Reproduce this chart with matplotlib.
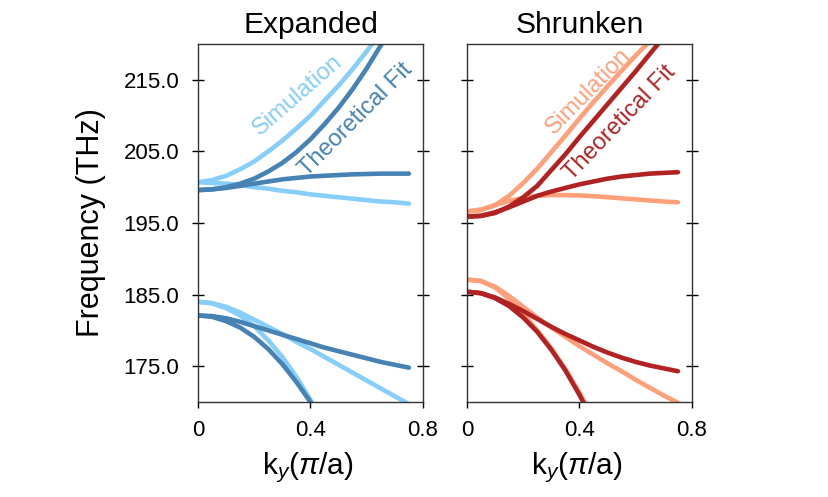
# Third-party imports
import numpy as np
import matplotlib
matplotlib.use('Agg')
import matplotlib.pyplot as plt

# Fonts
plt.rcParams['font.family'] = ['Liberation Sans', 'DejaVu Sans']
plt.rcParams['mathtext.fontset'] = 'custom'
plt.rcParams['mathtext.rm'] = 'Liberation Sans'
plt.rcParams['mathtext.it'] = 'Liberation Sans:italic'

# Wavevector samples [pi/a]
k = np.array([0., 0.05, 0.1, 0.15, 0.2, 0.25, 0.3, 0.35,
              0.4, 0.45, 0.5, 0.55, 0.6, 0.65, 0.7, 0.75])

# Expanded lattice, simulation [THz]
exp_sim_up = [200.7, 201.0, 201.6, 202.5, 203.6, 205.0, 206.5, 208.2,
              210.0, 212.1, 214.2, 216.5, 219.0, 221.6]
exp_sim_flat = [200.7, 200.6, 200.5, 200.3, 200.0, 199.8, 199.5, 199.3,
                199.0, 198.8, 198.6, 198.4, 198.2, 198.0, 197.9, 197.7]
exp_sim_steep = [184.0, 183.8, 183.1, 182.1, 180.6, 178.6, 176.3, 173.5,
                 170.3, 166.6]
exp_sim_low = [184.0, 183.8, 183.3, 182.5, 181.5, 180.5, 179.5, 178.4,
               177.4, 176.3, 175.2, 174.1, 173.0, 171.9, 170.8, 169.7]

# Expanded lattice, theoretical fit [THz]
exp_fit_up = [199.6, 199.7, 200.0, 200.5, 201.2, 202.2, 203.4, 204.9,
              206.7, 208.8, 211.1, 213.7, 216.6, 219.8, 223.3]
exp_fit_flat = [199.6, 199.7, 199.9, 200.2, 200.5, 200.8, 201.1, 201.3,
                201.5, 201.6, 201.7, 201.8, 201.85, 201.9, 201.9, 201.9]
exp_fit_steep = [182.1, 181.9, 181.3, 180.4, 179.1, 177.4, 175.3, 172.8,
                 170.0, 166.8]
exp_fit_low = [182.1, 182.0, 181.7, 181.2, 180.6, 180.0, 179.4, 178.8,
               178.2, 177.6, 177.1, 176.6, 176.1, 175.6, 175.2, 174.8]

# Shrunken lattice, simulation [THz]
shr_sim_up = [196.6, 196.8, 197.5, 198.8, 200.6, 202.6, 204.9, 207.2,
              209.6, 211.9, 214.1, 216.3, 218.4, 220.4]
shr_sim_flat = [196.6, 196.9, 197.5, 198.1, 198.5, 198.8, 198.9, 198.9,
                198.85, 198.75, 198.6, 198.45, 198.3, 198.15, 198.0, 197.9]
shr_sim_steep = [187.1, 186.9, 186.0, 184.4, 182.3, 180.0, 177.5, 174.6,
                 171.3, 167.6]
shr_sim_low = [187.1, 186.9, 186.1, 184.8, 183.3, 181.8, 180.4, 179.1,
               177.8, 176.6, 175.4, 174.3, 173.1, 172.0, 170.9, 169.9]

# Shrunken lattice, theoretical fit [THz]
shr_fit_up = [195.9, 196.0, 196.4, 197.3, 198.6, 200.2, 202.4, 204.6,
              207.0, 209.3, 211.6, 213.9, 216.2, 218.6, 221.0]
shr_fit_flat = [195.9, 196.0, 196.5, 197.2, 198.0, 198.8, 199.4, 199.9,
                200.4, 200.8, 201.2, 201.5, 201.7, 201.9, 202.0, 202.1]
shr_fit_steep = [185.4, 185.2, 184.5, 183.4, 181.8, 179.8, 177.3, 174.4,
                 171.0, 167.2]
shr_fit_low = [185.4, 185.2, 184.6, 183.7, 182.7, 181.6, 180.5, 179.5,
               178.6, 177.7, 176.9, 176.2, 175.6, 175.1, 174.7, 174.3]

titles = ['Expanded', 'Shrunken']
yticks = [175., 185., 195., 205., 215.]
xticks = [0., 0.4, 0.8]
xticklabels = ['0', '0.4', '0.8']

panels = [
    (['#87CEFA', '#4682B4'],
     [exp_sim_up, exp_sim_flat, exp_sim_steep, exp_sim_low],
     [exp_fit_up, exp_fit_flat, exp_fit_steep, exp_fit_low],
     [(0.353, 212.9, 41.), (0.560, 209.4, 45.)]),
    (['#FFA07A', '#B22222'],
     [shr_sim_up, shr_sim_flat, shr_sim_steep, shr_sim_low],
     [shr_fit_up, shr_fit_flat, shr_fit_steep, shr_fit_low],
     [(0.431, 213.4, 45.5), (0.542, 209.0, 46.)]),
]

fig = plt.figure(figsize=(8.29, 4.97), dpi=100)
lefts = [0.2388, 0.5633]

for i, (cols, sims, fits, txt) in enumerate(panels):
    ax = fig.add_axes([lefts[i], 0.1911, 0.2714, 0.7203])

    # Simulation underneath, fit on top
    for s in sims:
        ax.plot(k[:len(s)], s, color=cols[0], lw=3.3, solid_capstyle='round')
    for f in fits:
        ax.plot(k[:len(f)], f, color=cols[1], lw=3.3, solid_capstyle='round')

    ax.text(txt[0][0], txt[0][1], 'Simulation', color=cols[0], fontsize=17,
            rotation=txt[0][2], ha='center', va='center')
    ax.text(txt[1][0], txt[1][1], 'Theoretical Fit', color=cols[1],
            fontsize=17, rotation=txt[1][2], ha='center', va='center')

    ax.set_xlim(0., 0.8)
    ax.set_ylim(170., 220.)
    ax.set_xticks(xticks)
    ax.set_xticklabels(xticklabels)
    ax.set_yticks(yticks)
    ax.tick_params(axis='y', direction='inout', length=9, width=1,
                   left=True, right=True, labelsize=16, pad=9)
    ax.tick_params(axis='x', direction='out', length=4, width=1,
                   labelsize=16, pad=9)
    if i == 0:
        ax.set_yticklabels([f'{v:.1f}' for v in yticks])
        ax.set_ylabel('Frequency (THz)', fontsize=22)
        ax.yaxis.set_label_coords(-0.41, 0.5)
    else:
        ax.set_yticklabels([])
    for sp in ax.spines.values():
        sp.set_color('#333333')
        sp.set_linewidth(1.)

    ax.set_title(titles[i], fontsize=21.5, pad=8)
    ax.set_xlabel(r'k$_y$($\pi$/a)', fontsize=21.5)
    ax.xaxis.set_label_coords(0.49, -0.135)

plt.savefig('out.png', dpi=100)
